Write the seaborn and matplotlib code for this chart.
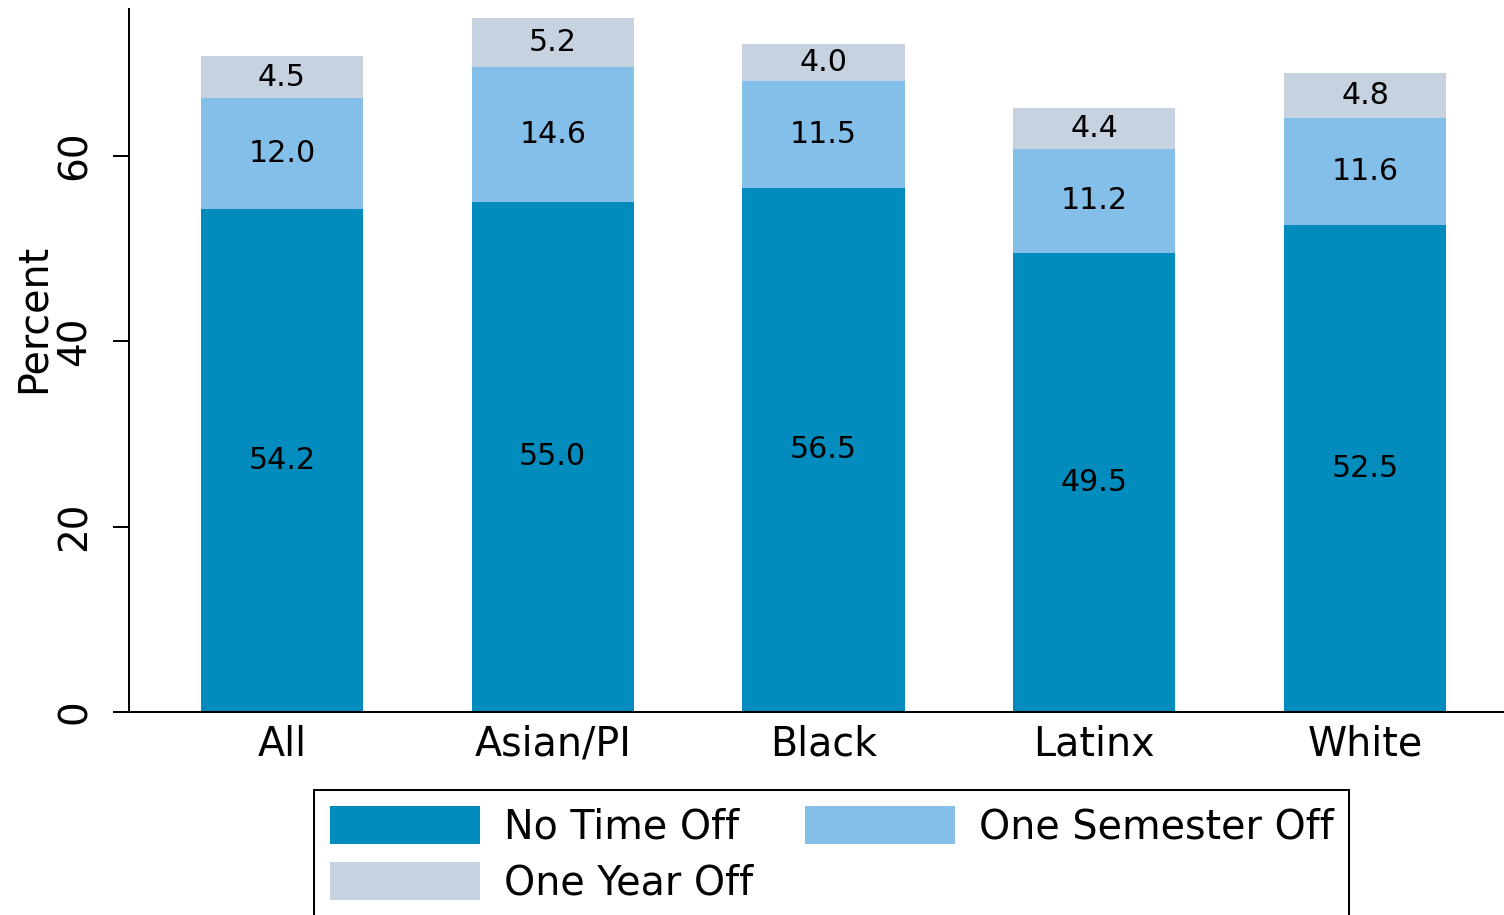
import pandas as pd
import seaborn as sns
import matplotlib.pyplot as plt

# Data
groups = ['All', 'Asian/PI', 'Black', 'Latinx', 'White']
no_time_off = [54.2, 55.0, 56.5, 49.5, 52.5]
one_semester_off = [12.0, 14.6, 11.5, 11.2, 11.6]
one_year_off = [4.5, 5.2, 4.0, 4.4, 4.8]

series_names = ['No Time Off', 'One Semester Off', 'One Year Off']
colors = ['#028bbd', '#83bfe9', '#c6d2df']

df = pd.DataFrame({
    'Group': groups,
    'No Time Off': no_time_off,
    'One Semester Off': one_semester_off,
    'One Year Off': one_year_off,
})

sns.set_style('ticks')
plt.rcParams['font.family'] = ['DejaVu Sans']
plt.rcParams['text.color'] = 'black'
plt.rcParams['axes.labelcolor'] = 'black'
plt.rcParams['xtick.color'] = 'black'
plt.rcParams['ytick.color'] = 'black'

fig = plt.figure(figsize=(15.04, 9.15), dpi=100)
W, H = 1504, 915
# axes runs past the right edge of the figure, like the cropped reference
ax = fig.add_axes([129 / W, 1 - 712 / H, (1518 - 129) / W, (712 - 9) / H])

bottom = pd.Series([0.0] * len(groups))
containers = []
for name, col in zip(series_names, colors):
    sns.barplot(data=df, x='Group', y=name, order=groups, color=col,
                saturation=1, width=0.6, bottom=bottom.values,
                linewidth=0, label=name, ax=ax)
    cont = ax.containers[-1]
    containers.append(cont)
    ax.bar_label(cont, labels=[f'{v:.1f}' for v in df[name]],
                 label_type='center', fontsize=21.7, color='black')
    bottom = bottom + df[name]

ax.set_xlim(-0.565, 4.565)
ax.set_ylim(0, 75.8)
ax.set_yticks([0, 20, 40, 60])
ax.set_xlabel('')
ax.set_ylabel('Percent', fontsize=28.5)
ax.yaxis.set_label_coords(-0.054, 0.56)

ax.tick_params(axis='y', labelsize=28, length=11.5, width=1.45, pad=14,
               labelrotation=90)
for lab in ax.get_yticklabels():
    lab.set_va('center')
ax.tick_params(axis='x', labelsize=28.5, length=0, pad=9)

sns.despine(ax=ax)
for s in ['left', 'bottom']:
    ax.spines[s].set_linewidth(1.45)
    ax.spines[s].set_color('black')

# legend filled row by row: No Time Off, One Semester Off / One Year Off
order = [0, 2, 1]
leg = ax.legend(handles=[containers[i] for i in order],
                labels=[series_names[i] for i in order], ncol=2,
                loc='upper left', bbox_to_anchor=(314 / W, 1 - 790 / H),
                bbox_transform=fig.transFigure, borderaxespad=0,
                fontsize=28.5, frameon=True, fancybox=False, framealpha=1,
                edgecolor='black', handlelength=3.8, handleheight=1.1,
                handletextpad=0.6, columnspacing=1.3, labelspacing=0.38,
                borderpad=0.4)
leg.get_frame().set_linewidth(1.45)

fig.savefig('out.png', dpi=100)
